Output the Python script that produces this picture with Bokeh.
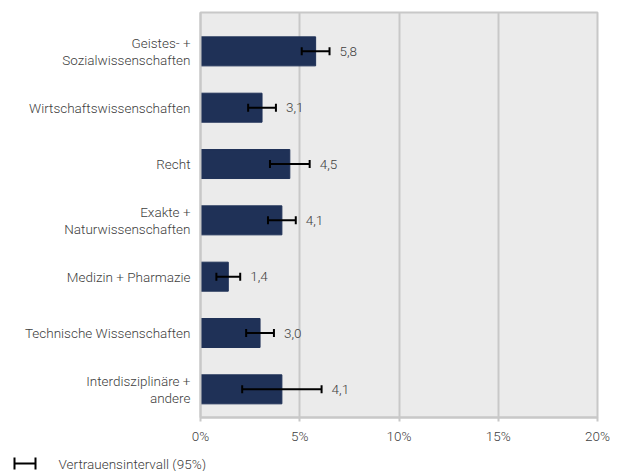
from bokeh.plotting import figure
from bokeh.layouts import column
from bokeh.models import (ColumnDataSource, Range1d, Whisker, TeeHead, FixedTicker)
from bokeh.core.properties import value
from bokeh.embed import file_html
from bokeh.resources import INLINE

categories = ["Geistes- +\nSozialwissenschaften", "Wirtschaftswissenschaften", "Recht",
              "Exakte +\nNaturwissenschaften", "Medizin + Pharmazie",
              "Technische Wissenschaften", "Interdisziplinäre +\nandere"]
values = [5.8, 3.1, 4.5, 4.1, 1.4, 3.0, 4.1]
ci_low = [5.1, 2.4, 3.5, 3.4, 0.8, 2.3, 2.1]
ci_high = [6.5, 3.8, 5.5, 4.8, 2.0, 3.7, 6.1]
labels = ["5,8", "3,1", "4,5", "4,1", "1,4", "3,0", "4,1"]
x_ticks = [0, 5, 10, 15, 20]
x_tick_labels = ["0%", "5%", "10%", "15%", "20%"]
legend_text = "Vertrauensintervall (95%)"

FONT = "Roboto Light"
FS = "13.5px"
TXT = "#404040"
GRID = "#c8c8c8"

idx = list(range(len(categories)))
src = ColumnDataSource(dict(y=idx, v=values, lo=ci_low, hi=ci_high, lab=labels))

p = figure(width=622, height=447, output_backend="svg", toolbar_location=None,
           x_range=Range1d(0, 20), y_range=Range1d(6.5, -0.69),
           min_border_left=200, min_border_right=25, min_border_top=12, min_border_bottom=30)
p.frame_align = False
p.background_fill_color = "#ebebeb"
p.border_fill_color = "white"
p.outline_line_color = GRID
p.outline_line_width = 2

p.hbar(y="y", right="v", left=0, height=0.515, source=src, color="#1f3157")

w = Whisker(source=src, base="y", lower="lo", upper="hi", dimension="width",
            line_width=2, line_color="black", level="overlay",
            lower_head=TeeHead(size=8, line_width=2, line_color="black"),
            upper_head=TeeHead(size=8, line_width=2, line_color="black"))
p.add_layout(w)

p.text(x="hi", y="y", text="lab", source=src, x_offset=10, text_baseline="middle",
       text_align="left", text_font=value(FONT), text_font_size=FS, text_color=TXT)

# x axis
p.xaxis.ticker = FixedTicker(ticks=x_ticks)
p.xaxis.major_label_overrides = {t: l for t, l in zip(x_ticks, x_tick_labels)}
p.xaxis.axis_line_color = GRID
p.xaxis.axis_line_width = 2
p.xaxis.major_tick_line_color = GRID
p.xaxis.major_tick_line_width = 2
p.xaxis.major_tick_in = 0
p.xaxis.major_tick_out = 4
p.xaxis.minor_tick_line_color = None
p.xaxis.major_label_text_font = FONT
p.xaxis.major_label_text_font_size = FS
p.xaxis.major_label_text_color = TXT
p.xaxis.major_label_standoff = 6

# y axis
p.yaxis.ticker = FixedTicker(ticks=idx)
p.yaxis.major_label_overrides = {i: c for i, c in zip(idx, categories)}
p.yaxis.axis_line_color = GRID
p.yaxis.axis_line_width = 2
p.yaxis.major_tick_line_color = None
p.yaxis.minor_tick_line_color = None
p.yaxis.major_label_text_font = FONT
p.yaxis.major_label_text_font_size = FS
p.yaxis.major_label_text_color = TXT
p.yaxis.major_label_text_line_height = 1.05
p.yaxis.major_label_standoff = 4

p.xgrid.ticker = FixedTicker(ticks=x_ticks)
p.xgrid.grid_line_color = GRID
p.xgrid.grid_line_width = 2
p.ygrid.grid_line_color = None

# legend strip below the chart
lg = figure(width=622, height=24, output_backend="svg", toolbar_location=None,
            x_range=Range1d(0, 622), y_range=Range1d(24, 0),
            min_border=0, outline_line_color=None)
lg.frame_align = False
lg.axis.visible = False
lg.grid.visible = False
lg.segment(x0=[14, 14, 35], y0=[16, 10, 10], x1=[35, 14, 35], y1=[16, 22, 22],
           line_color="black", line_width=2)
lg.text(x=[58], y=[16], text=[legend_text], text_baseline="middle", text_align="left",
        text_font=value(FONT), text_font_size=FS, text_color=TXT)

open("out.html", "w").write(file_html(column(p, lg, spacing=0), INLINE))
